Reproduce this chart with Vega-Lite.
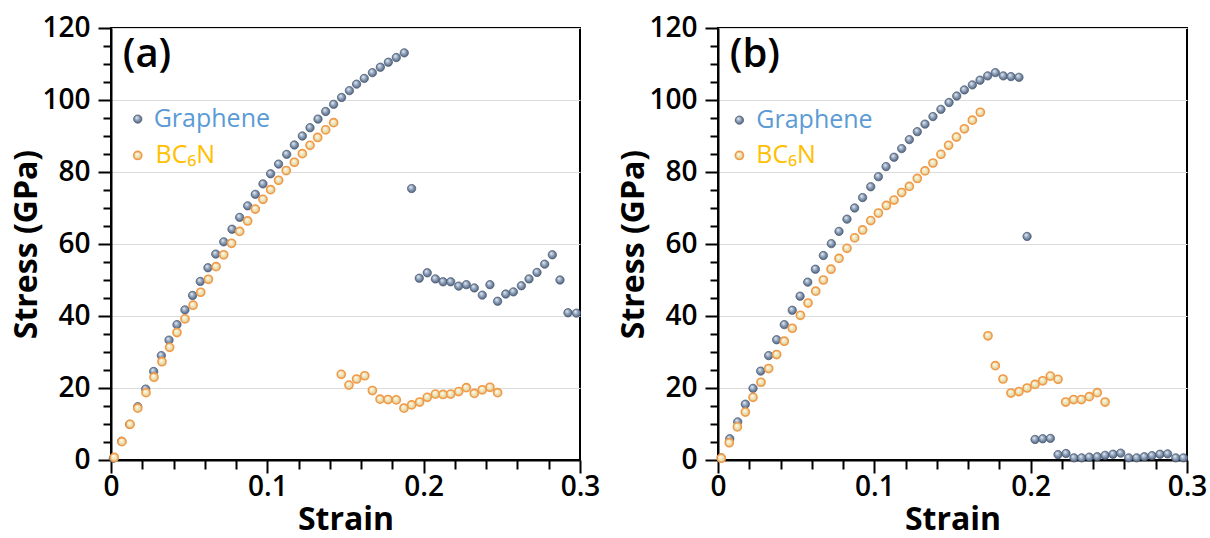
{
  "$schema": "https://vega.github.io/schema/vega-lite/v6.json",
  "background": "white",
  "padding": {"left": 9, "top": 13, "right": 0, "bottom": 2},
  "spacing": 15,
  "datasets": {
    "a": [
      {"material": "Graphene", "strain": 0.0015, "stress": 0.5},
      {"material": "Graphene", "strain": 0.0068, "stress": 5.2},
      {"material": "Graphene", "strain": 0.0119, "stress": 9.9},
      {"material": "Graphene", "strain": 0.0171, "stress": 14.8},
      {"material": "Graphene", "strain": 0.0222, "stress": 19.7},
      {"material": "Graphene", "strain": 0.0273, "stress": 24.6},
      {"material": "Graphene", "strain": 0.0322, "stress": 29.0},
      {"material": "Graphene", "strain": 0.0371, "stress": 33.3},
      {"material": "Graphene", "strain": 0.0422, "stress": 37.6},
      {"material": "Graphene", "strain": 0.0473, "stress": 41.7},
      {"material": "Graphene", "strain": 0.0522, "stress": 45.7},
      {"material": "Graphene", "strain": 0.0571, "stress": 49.6},
      {"material": "Graphene", "strain": 0.0620, "stress": 53.4},
      {"material": "Graphene", "strain": 0.0670, "stress": 57.2},
      {"material": "Graphene", "strain": 0.0721, "stress": 60.6},
      {"material": "Graphene", "strain": 0.0774, "stress": 64.1},
      {"material": "Graphene", "strain": 0.0823, "stress": 67.4},
      {"material": "Graphene", "strain": 0.0874, "stress": 70.6},
      {"material": "Graphene", "strain": 0.0923, "stress": 73.8},
      {"material": "Graphene", "strain": 0.0972, "stress": 76.7},
      {"material": "Graphene", "strain": 0.1021, "stress": 79.5},
      {"material": "Graphene", "strain": 0.1072, "stress": 82.2},
      {"material": "Graphene", "strain": 0.1124, "stress": 84.9},
      {"material": "Graphene", "strain": 0.1173, "stress": 87.5},
      {"material": "Graphene", "strain": 0.1224, "stress": 90.0},
      {"material": "Graphene", "strain": 0.1273, "stress": 92.3},
      {"material": "Graphene", "strain": 0.1324, "stress": 94.7},
      {"material": "Graphene", "strain": 0.1373, "stress": 96.8},
      {"material": "Graphene", "strain": 0.1424, "stress": 98.8},
      {"material": "Graphene", "strain": 0.1475, "stress": 100.7},
      {"material": "Graphene", "strain": 0.1525, "stress": 102.6},
      {"material": "Graphene", "strain": 0.1571, "stress": 104.4},
      {"material": "Graphene", "strain": 0.1620, "stress": 106.0},
      {"material": "Graphene", "strain": 0.1672, "stress": 107.6},
      {"material": "Graphene", "strain": 0.1723, "stress": 109.1},
      {"material": "Graphene", "strain": 0.1774, "stress": 110.5},
      {"material": "Graphene", "strain": 0.1825, "stress": 111.8},
      {"material": "Graphene", "strain": 0.1876, "stress": 113.1},
      {"material": "Graphene", "strain": 0.1923, "stress": 75.4},
      {"material": "Graphene", "strain": 0.1972, "stress": 50.5},
      {"material": "Graphene", "strain": 0.2023, "stress": 52.0},
      {"material": "Graphene", "strain": 0.2075, "stress": 50.3},
      {"material": "Graphene", "strain": 0.2124, "stress": 49.5},
      {"material": "Graphene", "strain": 0.2173, "stress": 49.5},
      {"material": "Graphene", "strain": 0.2224, "stress": 48.3},
      {"material": "Graphene", "strain": 0.2273, "stress": 48.7},
      {"material": "Graphene", "strain": 0.2324, "stress": 47.8},
      {"material": "Graphene", "strain": 0.2375, "stress": 45.8},
      {"material": "Graphene", "strain": 0.2424, "stress": 48.7},
      {"material": "Graphene", "strain": 0.2473, "stress": 44.1},
      {"material": "Graphene", "strain": 0.2525, "stress": 46.1},
      {"material": "Graphene", "strain": 0.2574, "stress": 46.7},
      {"material": "Graphene", "strain": 0.2625, "stress": 48.4},
      {"material": "Graphene", "strain": 0.2674, "stress": 50.3},
      {"material": "Graphene", "strain": 0.2725, "stress": 52.1},
      {"material": "Graphene", "strain": 0.2774, "stress": 54.4},
      {"material": "Graphene", "strain": 0.2823, "stress": 57.0},
      {"material": "Graphene", "strain": 0.2872, "stress": 50.0},
      {"material": "Graphene", "strain": 0.2923, "stress": 40.9},
      {"material": "Graphene", "strain": 0.2977, "stress": 40.8},
      {"material": "BC6N", "strain": 0.0021, "stress": 0.7},
      {"material": "BC6N", "strain": 0.0070, "stress": 5.1},
      {"material": "BC6N", "strain": 0.0122, "stress": 9.9},
      {"material": "BC6N", "strain": 0.0171, "stress": 14.4},
      {"material": "BC6N", "strain": 0.0224, "stress": 18.7},
      {"material": "BC6N", "strain": 0.0275, "stress": 23.0},
      {"material": "BC6N", "strain": 0.0326, "stress": 27.3},
      {"material": "BC6N", "strain": 0.0375, "stress": 31.3},
      {"material": "BC6N", "strain": 0.0422, "stress": 35.4},
      {"material": "BC6N", "strain": 0.0473, "stress": 39.2},
      {"material": "BC6N", "strain": 0.0525, "stress": 43.0},
      {"material": "BC6N", "strain": 0.0574, "stress": 46.6},
      {"material": "BC6N", "strain": 0.0623, "stress": 50.2},
      {"material": "BC6N", "strain": 0.0672, "stress": 53.7},
      {"material": "BC6N", "strain": 0.0721, "stress": 57.0},
      {"material": "BC6N", "strain": 0.0771, "stress": 60.2},
      {"material": "BC6N", "strain": 0.0823, "stress": 63.5},
      {"material": "BC6N", "strain": 0.0874, "stress": 66.4},
      {"material": "BC6N", "strain": 0.0923, "stress": 69.7},
      {"material": "BC6N", "strain": 0.0972, "stress": 72.4},
      {"material": "BC6N", "strain": 0.1021, "stress": 75.1},
      {"material": "BC6N", "strain": 0.1072, "stress": 77.7},
      {"material": "BC6N", "strain": 0.1121, "stress": 80.4},
      {"material": "BC6N", "strain": 0.1173, "stress": 82.7},
      {"material": "BC6N", "strain": 0.1224, "stress": 85.1},
      {"material": "BC6N", "strain": 0.1273, "stress": 87.4},
      {"material": "BC6N", "strain": 0.1322, "stress": 89.6},
      {"material": "BC6N", "strain": 0.1373, "stress": 91.7},
      {"material": "BC6N", "strain": 0.1424, "stress": 93.7},
      {"material": "BC6N", "strain": 0.1473, "stress": 23.8},
      {"material": "BC6N", "strain": 0.1522, "stress": 20.8},
      {"material": "BC6N", "strain": 0.1571, "stress": 22.5},
      {"material": "BC6N", "strain": 0.1623, "stress": 23.4},
      {"material": "BC6N", "strain": 0.1672, "stress": 19.3},
      {"material": "BC6N", "strain": 0.1721, "stress": 16.9},
      {"material": "BC6N", "strain": 0.1772, "stress": 16.8},
      {"material": "BC6N", "strain": 0.1825, "stress": 16.7},
      {"material": "BC6N", "strain": 0.1874, "stress": 14.4},
      {"material": "BC6N", "strain": 0.1923, "stress": 15.3},
      {"material": "BC6N", "strain": 0.1974, "stress": 16.1},
      {"material": "BC6N", "strain": 0.2023, "stress": 17.4},
      {"material": "BC6N", "strain": 0.2075, "stress": 18.3},
      {"material": "BC6N", "strain": 0.2124, "stress": 18.2},
      {"material": "BC6N", "strain": 0.2173, "stress": 18.3},
      {"material": "BC6N", "strain": 0.2224, "stress": 19.0},
      {"material": "BC6N", "strain": 0.2273, "stress": 20.1},
      {"material": "BC6N", "strain": 0.2324, "stress": 18.5},
      {"material": "BC6N", "strain": 0.2375, "stress": 19.5},
      {"material": "BC6N", "strain": 0.2424, "stress": 20.2},
      {"material": "BC6N", "strain": 0.2473, "stress": 18.7}
    ],
    "b": [
      {"material": "Graphene", "strain": 0.0021, "stress": 0.6},
      {"material": "Graphene", "strain": 0.0075, "stress": 5.9},
      {"material": "Graphene", "strain": 0.0126, "stress": 10.6},
      {"material": "Graphene", "strain": 0.0175, "stress": 15.5},
      {"material": "Graphene", "strain": 0.0224, "stress": 19.9},
      {"material": "Graphene", "strain": 0.0273, "stress": 24.7},
      {"material": "Graphene", "strain": 0.0324, "stress": 29.0},
      {"material": "Graphene", "strain": 0.0375, "stress": 33.4},
      {"material": "Graphene", "strain": 0.0424, "stress": 37.6},
      {"material": "Graphene", "strain": 0.0475, "stress": 41.6},
      {"material": "Graphene", "strain": 0.0525, "stress": 45.5},
      {"material": "Graphene", "strain": 0.0574, "stress": 49.4},
      {"material": "Graphene", "strain": 0.0623, "stress": 53.0},
      {"material": "Graphene", "strain": 0.0674, "stress": 56.8},
      {"material": "Graphene", "strain": 0.0725, "stress": 60.1},
      {"material": "Graphene", "strain": 0.0774, "stress": 63.5},
      {"material": "Graphene", "strain": 0.0825, "stress": 66.9},
      {"material": "Graphene", "strain": 0.0874, "stress": 70.0},
      {"material": "Graphene", "strain": 0.0925, "stress": 72.9},
      {"material": "Graphene", "strain": 0.0977, "stress": 75.9},
      {"material": "Graphene", "strain": 0.1026, "stress": 78.7},
      {"material": "Graphene", "strain": 0.1075, "stress": 81.5},
      {"material": "Graphene", "strain": 0.1126, "stress": 84.1},
      {"material": "Graphene", "strain": 0.1175, "stress": 86.5},
      {"material": "Graphene", "strain": 0.1224, "stress": 89.0},
      {"material": "Graphene", "strain": 0.1275, "stress": 91.2},
      {"material": "Graphene", "strain": 0.1324, "stress": 93.3},
      {"material": "Graphene", "strain": 0.1375, "stress": 95.4},
      {"material": "Graphene", "strain": 0.1426, "stress": 97.4},
      {"material": "Graphene", "strain": 0.1478, "stress": 99.3},
      {"material": "Graphene", "strain": 0.1527, "stress": 101.1},
      {"material": "Graphene", "strain": 0.1576, "stress": 102.8},
      {"material": "Graphene", "strain": 0.1627, "stress": 104.2},
      {"material": "Graphene", "strain": 0.1676, "stress": 105.5},
      {"material": "Graphene", "strain": 0.1725, "stress": 106.7},
      {"material": "Graphene", "strain": 0.1774, "stress": 107.6},
      {"material": "Graphene", "strain": 0.1825, "stress": 106.7},
      {"material": "Graphene", "strain": 0.1874, "stress": 106.5},
      {"material": "Graphene", "strain": 0.1925, "stress": 106.3},
      {"material": "Graphene", "strain": 0.1977, "stress": 62.1},
      {"material": "Graphene", "strain": 0.2028, "stress": 5.7},
      {"material": "Graphene", "strain": 0.2077, "stress": 5.9},
      {"material": "Graphene", "strain": 0.2126, "stress": 6.0},
      {"material": "Graphene", "strain": 0.2175, "stress": 1.5},
      {"material": "Graphene", "strain": 0.2226, "stress": 1.8},
      {"material": "Graphene", "strain": 0.2277, "stress": 0.6},
      {"material": "Graphene", "strain": 0.2326, "stress": 0.6},
      {"material": "Graphene", "strain": 0.2375, "stress": 0.8},
      {"material": "Graphene", "strain": 0.2426, "stress": 0.9},
      {"material": "Graphene", "strain": 0.2476, "stress": 1.3},
      {"material": "Graphene", "strain": 0.2527, "stress": 1.6},
      {"material": "Graphene", "strain": 0.2576, "stress": 1.9},
      {"material": "Graphene", "strain": 0.2627, "stress": 0.6},
      {"material": "Graphene", "strain": 0.2678, "stress": 0.6},
      {"material": "Graphene", "strain": 0.2727, "stress": 0.9},
      {"material": "Graphene", "strain": 0.2776, "stress": 1.2},
      {"material": "Graphene", "strain": 0.2827, "stress": 1.6},
      {"material": "Graphene", "strain": 0.2876, "stress": 1.7},
      {"material": "Graphene", "strain": 0.2928, "stress": 0.6},
      {"material": "Graphene", "strain": 0.2977, "stress": 0.6},
      {"material": "BC6N", "strain": 0.0021, "stress": 0.5},
      {"material": "BC6N", "strain": 0.0072, "stress": 4.8},
      {"material": "BC6N", "strain": 0.0124, "stress": 9.2},
      {"material": "BC6N", "strain": 0.0175, "stress": 13.3},
      {"material": "BC6N", "strain": 0.0224, "stress": 17.4},
      {"material": "BC6N", "strain": 0.0275, "stress": 21.6},
      {"material": "BC6N", "strain": 0.0324, "stress": 25.4},
      {"material": "BC6N", "strain": 0.0375, "stress": 29.3},
      {"material": "BC6N", "strain": 0.0424, "stress": 33.0},
      {"material": "BC6N", "strain": 0.0475, "stress": 36.6},
      {"material": "BC6N", "strain": 0.0527, "stress": 40.2},
      {"material": "BC6N", "strain": 0.0576, "stress": 43.6},
      {"material": "BC6N", "strain": 0.0625, "stress": 46.9},
      {"material": "BC6N", "strain": 0.0674, "stress": 50.0},
      {"material": "BC6N", "strain": 0.0723, "stress": 53.0},
      {"material": "BC6N", "strain": 0.0774, "stress": 56.0},
      {"material": "BC6N", "strain": 0.0825, "stress": 58.8},
      {"material": "BC6N", "strain": 0.0874, "stress": 61.7},
      {"material": "BC6N", "strain": 0.0925, "stress": 63.9},
      {"material": "BC6N", "strain": 0.0977, "stress": 66.5},
      {"material": "BC6N", "strain": 0.1026, "stress": 68.6},
      {"material": "BC6N", "strain": 0.1077, "stress": 70.7},
      {"material": "BC6N", "strain": 0.1126, "stress": 72.2},
      {"material": "BC6N", "strain": 0.1175, "stress": 74.3},
      {"material": "BC6N", "strain": 0.1224, "stress": 76.0},
      {"material": "BC6N", "strain": 0.1275, "stress": 78.2},
      {"material": "BC6N", "strain": 0.1324, "stress": 80.3},
      {"material": "BC6N", "strain": 0.1375, "stress": 82.5},
      {"material": "BC6N", "strain": 0.1426, "stress": 84.9},
      {"material": "BC6N", "strain": 0.1475, "stress": 87.4},
      {"material": "BC6N", "strain": 0.1525, "stress": 89.7},
      {"material": "BC6N", "strain": 0.1576, "stress": 92.0},
      {"material": "BC6N", "strain": 0.1627, "stress": 94.4},
      {"material": "BC6N", "strain": 0.1678, "stress": 96.6},
      {"material": "BC6N", "strain": 0.1727, "stress": 34.5},
      {"material": "BC6N", "strain": 0.1774, "stress": 26.2},
      {"material": "BC6N", "strain": 0.1823, "stress": 22.5},
      {"material": "BC6N", "strain": 0.1874, "stress": 18.6},
      {"material": "BC6N", "strain": 0.1925, "stress": 19.0},
      {"material": "BC6N", "strain": 0.1977, "stress": 20.0},
      {"material": "BC6N", "strain": 0.2028, "stress": 21.0},
      {"material": "BC6N", "strain": 0.2077, "stress": 22.0},
      {"material": "BC6N", "strain": 0.2126, "stress": 23.3},
      {"material": "BC6N", "strain": 0.2175, "stress": 22.4},
      {"material": "BC6N", "strain": 0.2224, "stress": 16.1},
      {"material": "BC6N", "strain": 0.2275, "stress": 16.8},
      {"material": "BC6N", "strain": 0.2324, "stress": 16.8},
      {"material": "BC6N", "strain": 0.2375, "stress": 17.6},
      {"material": "BC6N", "strain": 0.2426, "stress": 18.7},
      {"material": "BC6N", "strain": 0.2476, "stress": 16.1}
    ]
  },
  "config": {
    "view": {"stroke": "black", "strokeWidth": 2},
    "font": "Open Sans",
    "axis": {
      "domainColor": "black",
      "domainWidth": 2,
      "tickColor": "black",
      "tickWidth": 2,
      "labelFont": "Open Sans",
      "labelFontSize": 28,
      "labelFontWeight": 600,
      "labelColor": "black",
      "titleFont": "Open Sans",
      "titleFontSize": 32,
      "titleFontWeight": "bold",
      "titleColor": "black",
      "gridColor": "#dcdcdc",
      "gridWidth": 1.2
    }
  },
  "hconcat": [
    {
      "width": 469,
      "height": 432,
      "data": {"name": "a"},
      "resolve": {"axis": {"x": "independent", "y": "independent"}},
      "layer": [
        {
          "transform": [{"filter": "datum.material === 'Graphene'"}],
          "mark": {"type": "point", "filled": true, "size": 70, "opacity": 1, "strokeWidth": 0.7, "stroke": "#46566f",
            "fill": {"gradient": "radial", "x1": 0.36, "y1": 0.3, "r1": 0.0, "x2": 0.5, "y2": 0.5, "r2": 0.62,
              "stops": [{"offset": 0, "color": "#eef3f9"}, {"offset": 0.45, "color": "#8ea1ba"}, {"offset": 1, "color": "#3c4c66"}]}},
          "encoding": {
            "x": {"field": "strain", "type": "quantitative", "scale": {"domain": [0, 0.3], "nice": false},
              "axis": {"title": "Strain", "orient": "bottom", "titlePadding": 3, "grid": false,
                "values": [0, 0.1, 0.2, 0.3],
                "labelExpr": "datum.value == 0 ? '0' : format(datum.value, '.1f')",
                "tickSize": 13, "labelPadding": 0, "labelFlush": false}},
            "y": {"field": "stress", "type": "quantitative", "scale": {"domain": [0, 120], "nice": false},
              "axis": {"title": "Stress (GPa)", "orient": "left", "titlePadding": -2, "grid": true,
                "values": [0, 20, 40, 60, 80, 100, 120],
                "tickSize": 13, "labelPadding": 8, "labelFlush": false}}
          }
        },
        {
          "transform": [{"filter": "datum.material === 'BC6N'"}],
          "mark": {"type": "point", "filled": true, "size": 66, "opacity": 1, "strokeWidth": 1.6, "stroke": "#f29a48",
            "fill": {"gradient": "radial", "x1": 0.38, "y1": 0.32, "r1": 0.0, "x2": 0.5, "y2": 0.5, "r2": 0.6,
              "stops": [{"offset": 0, "color": "#fffdf2"}, {"offset": 0.55, "color": "#eadfb0"}, {"offset": 1, "color": "#cfbc80"}]}},
          "encoding": {
            "x": {"field": "strain", "type": "quantitative", "scale": {"domain": [0, 0.3], "nice": false},
              "axis": {"title": null, "orient": "bottom", "grid": false, "labels": false, "domain": false,
                "values": [0.02, 0.04, 0.06, 0.08, 0.12, 0.14, 0.16, 0.18, 0.22, 0.24, 0.26, 0.28],
                "tickSize": 9}},
            "y": {"field": "stress", "type": "quantitative", "scale": {"domain": [0, 120], "nice": false},
              "axis": {"title": null, "orient": "left", "grid": false, "labels": false, "domain": false,
                "values": [5, 10, 15, 25, 30, 35, 45, 50, 55, 65, 70, 75, 85, 90, 95, 105, 110, 115],
                "tickSize": 8}}
          }
        },
        {
          "data": {"values": [{"label": "(a)"}]},
          "mark": {"type": "text", "align": "left", "baseline": "middle", "fontSize": 40, "fontWeight": 600, "color": "black", "font": "Open Sans"},
          "encoding": {
            "x": {"datum": 0.0075, "type": "quantitative", "axis": null},
            "y": {"datum": 112.5, "type": "quantitative", "axis": null},
            "text": {"field": "label"}
          }
        },
        {
          "data": {"values": [{"label": "Graphene"}]},
          "mark": {"type": "point", "filled": true, "size": 70, "opacity": 1, "strokeWidth": 0.7, "stroke": "#46566f",
            "fill": {"gradient": "radial", "x1": 0.36, "y1": 0.3, "r1": 0.0, "x2": 0.5, "y2": 0.5, "r2": 0.62,
              "stops": [{"offset": 0, "color": "#eef3f9"}, {"offset": 0.45, "color": "#8ea1ba"}, {"offset": 1, "color": "#3c4c66"}]}},
          "encoding": {
            "x": {"datum": 0.0171, "type": "quantitative", "axis": null},
            "y": {"datum": 94.7, "type": "quantitative", "axis": null}
          }
        },
        {
          "data": {"values": [{"label": "BC6N"}]},
          "mark": {"type": "point", "filled": true, "size": 66, "opacity": 1, "strokeWidth": 1.6, "stroke": "#f29a48",
            "fill": {"gradient": "radial", "x1": 0.38, "y1": 0.32, "r1": 0.0, "x2": 0.5, "y2": 0.5, "r2": 0.6,
              "stops": [{"offset": 0, "color": "#fffdf2"}, {"offset": 0.55, "color": "#eadfb0"}, {"offset": 1, "color": "#cfbc80"}]}},
          "encoding": {
            "x": {"datum": 0.0171, "type": "quantitative", "axis": null},
            "y": {"datum": 84.6, "type": "quantitative", "axis": null}
          }
        },
        {
          "data": {"values": [{"label": "Graphene"}]},
          "mark": {"type": "text", "align": "left", "baseline": "middle", "fontSize": 25, "color": "#5b9bd5", "font": "Open Sans"},
          "encoding": {
            "x": {"datum": 0.0273, "type": "quantitative", "axis": null},
            "y": {"datum": 94.7, "type": "quantitative", "axis": null},
            "text": {"field": "label"}
          }
        },
        {
          "data": {"values": [{"label": "BC₆N"}]},
          "mark": {"type": "text", "align": "left", "baseline": "middle", "fontSize": 25, "color": "#ffc000", "font": "Open Sans"},
          "encoding": {
            "x": {"datum": 0.0285, "type": "quantitative", "axis": null},
            "y": {"datum": 84.6, "type": "quantitative", "axis": null},
            "text": {"field": "label"}
          }
        }
      ]
    },
    {
      "width": 469,
      "height": 432,
      "data": {"name": "b"},
      "resolve": {"axis": {"x": "independent", "y": "independent"}},
      "layer": [
        {
          "transform": [{"filter": "datum.material === 'Graphene'"}],
          "mark": {"type": "point", "filled": true, "size": 70, "opacity": 1, "strokeWidth": 0.7, "stroke": "#46566f",
            "fill": {"gradient": "radial", "x1": 0.36, "y1": 0.3, "r1": 0.0, "x2": 0.5, "y2": 0.5, "r2": 0.62,
              "stops": [{"offset": 0, "color": "#eef3f9"}, {"offset": 0.45, "color": "#8ea1ba"}, {"offset": 1, "color": "#3c4c66"}]}},
          "encoding": {
            "x": {"field": "strain", "type": "quantitative", "scale": {"domain": [0, 0.3], "nice": false},
              "axis": {"title": "Strain", "orient": "bottom", "titlePadding": 3, "grid": false,
                "values": [0, 0.1, 0.2, 0.3],
                "labelExpr": "datum.value == 0 ? '0' : format(datum.value, '.1f')",
                "tickSize": 13, "labelPadding": 0, "labelFlush": false}},
            "y": {"field": "stress", "type": "quantitative", "scale": {"domain": [0, 120], "nice": false},
              "axis": {"title": "Stress (GPa)", "orient": "left", "titlePadding": -2, "grid": true,
                "values": [0, 20, 40, 60, 80, 100, 120],
                "tickSize": 13, "labelPadding": 8, "labelFlush": false}}
          }
        },
        {
          "transform": [{"filter": "datum.material === 'BC6N'"}],
          "mark": {"type": "point", "filled": true, "size": 66, "opacity": 1, "strokeWidth": 1.6, "stroke": "#f29a48",
            "fill": {"gradient": "radial", "x1": 0.38, "y1": 0.32, "r1": 0.0, "x2": 0.5, "y2": 0.5, "r2": 0.6,
              "stops": [{"offset": 0, "color": "#fffdf2"}, {"offset": 0.55, "color": "#eadfb0"}, {"offset": 1, "color": "#cfbc80"}]}},
          "encoding": {
            "x": {"field": "strain", "type": "quantitative", "scale": {"domain": [0, 0.3], "nice": false},
              "axis": {"title": null, "orient": "bottom", "grid": false, "labels": false, "domain": false,
                "values": [0.02, 0.04, 0.06, 0.08, 0.12, 0.14, 0.16, 0.18, 0.22, 0.24, 0.26, 0.28],
                "tickSize": 9}},
            "y": {"field": "stress", "type": "quantitative", "scale": {"domain": [0, 120], "nice": false},
              "axis": {"title": null, "orient": "left", "grid": false, "labels": false, "domain": false,
                "values": [5, 10, 15, 25, 30, 35, 45, 50, 55, 65, 70, 75, 85, 90, 95, 105, 110, 115],
                "tickSize": 8}}
          }
        },
        {
          "data": {"values": [{"label": "(b)"}]},
          "mark": {"type": "text", "align": "left", "baseline": "middle", "fontSize": 40, "fontWeight": 600, "color": "black", "font": "Open Sans"},
          "encoding": {
            "x": {"datum": 0.0075, "type": "quantitative", "axis": null},
            "y": {"datum": 112.5, "type": "quantitative", "axis": null},
            "text": {"field": "label"}
          }
        },
        {
          "data": {"values": [{"label": "Graphene"}]},
          "mark": {"type": "point", "filled": true, "size": 70, "opacity": 1, "strokeWidth": 0.7, "stroke": "#46566f",
            "fill": {"gradient": "radial", "x1": 0.36, "y1": 0.3, "r1": 0.0, "x2": 0.5, "y2": 0.5, "r2": 0.62,
              "stops": [{"offset": 0, "color": "#eef3f9"}, {"offset": 0.45, "color": "#8ea1ba"}, {"offset": 1, "color": "#3c4c66"}]}},
          "encoding": {
            "x": {"datum": 0.0137, "type": "quantitative", "axis": null},
            "y": {"datum": 94.4, "type": "quantitative", "axis": null}
          }
        },
        {
          "data": {"values": [{"label": "BC6N"}]},
          "mark": {"type": "point", "filled": true, "size": 66, "opacity": 1, "strokeWidth": 1.6, "stroke": "#f29a48",
            "fill": {"gradient": "radial", "x1": 0.38, "y1": 0.32, "r1": 0.0, "x2": 0.5, "y2": 0.5, "r2": 0.6,
              "stops": [{"offset": 0, "color": "#fffdf2"}, {"offset": 0.55, "color": "#eadfb0"}, {"offset": 1, "color": "#cfbc80"}]}},
          "encoding": {
            "x": {"datum": 0.0137, "type": "quantitative", "axis": null},
            "y": {"datum": 84.6, "type": "quantitative", "axis": null}
          }
        },
        {
          "data": {"values": [{"label": "Graphene"}]},
          "mark": {"type": "text", "align": "left", "baseline": "middle", "fontSize": 25, "color": "#5b9bd5", "font": "Open Sans"},
          "encoding": {
            "x": {"datum": 0.0245, "type": "quantitative", "axis": null},
            "y": {"datum": 94.4, "type": "quantitative", "axis": null},
            "text": {"field": "label"}
          }
        },
        {
          "data": {"values": [{"label": "BC₆N"}]},
          "mark": {"type": "text", "align": "left", "baseline": "middle", "fontSize": 25, "color": "#ffc000", "font": "Open Sans"},
          "encoding": {
            "x": {"datum": 0.0245, "type": "quantitative", "axis": null},
            "y": {"datum": 84.6, "type": "quantitative", "axis": null},
            "text": {"field": "label"}
          }
        }
      ]
    }
  ]
}
